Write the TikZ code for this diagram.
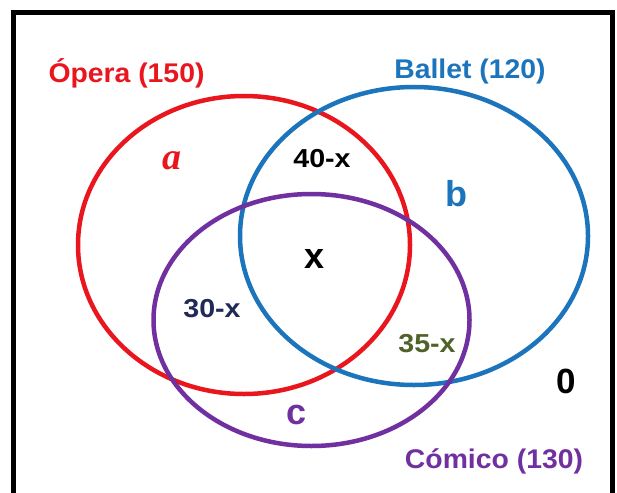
\documentclass[tikz,border=0pt]{standalone}
\usepackage{fontspec}
\setmainfont{Liberation Sans}
\newfontfamily\letterfont{Liberation Serif}
\usetikzlibrary{shapes.geometric}
\definecolor{cred}{RGB}{234,22,30}
\definecolor{cblue}{RGB}{28,117,188}
\definecolor{cpurple}{RGB}{112,48,160}
\definecolor{cnavy}{RGB}{31,42,86}
\definecolor{cgreen}{RGB}{79,98,40}
\newcommand{\widen}[2]{\scalebox{#1}[1]{#2}}
\begin{document}
\begin{tikzpicture}[x=1pt,y=-1pt,
  setshape/.style={ellipse, draw, line width=4.5pt, inner sep=0pt, outer sep=0pt},
  title/.style={anchor=base, inner sep=0pt, font=\bfseries\fontsize{27}{30}\selectfont},
  region/.style={anchor=base, inner sep=0pt, font=\bfseries\fontsize{26}{30}\selectfont},
  big/.style={anchor=base, inner sep=0pt, font=\bfseries\fontsize{36}{40}\selectfont}]
\useasboundingbox (0,0) rectangle (617,492);
\fill[white] (0,0) rectangle (617,492);
% frame
\coordinate (fbl) at (13,500);
\coordinate (ftl) at (13,12.5);
\coordinate (ftr) at (612.5,12.5);
\coordinate (fbr) at (612.5,500);
\draw[line width=5pt, line join=miter] (fbl) -- (ftl) -- (ftr) -- (fbr);
% sets
\node[setshape, draw=cred, minimum width=332pt, minimum height=298pt] (opera) at (244,245) {};
\node[setshape, draw=cblue, minimum width=348pt, minimum height=298pt] (ballet) at (414,236) {};
\node[setshape, draw=cpurple, minimum width=316pt, minimum height=252pt] (comico) at (311.5,320) {};
% titles
\node[title, text=cred] (topera) at (126.5,83) {\widen{1.05}{Ópera (150)}};
\node[title, text=cblue] (tballet) at (470,78) {\widen{1.05}{Ballet (120)}};
\node[title, text=cpurple] (tcomico) at (494,468) {\widen{1.05}{Cómico (130)}};
% regions
\node[anchor=base, inner sep=0pt, text=cred, font=\letterfont\bfseries\itshape\fontsize{38}{44}\selectfont] (ra) at (172,169) {a};
\node[region] (rab) at (322,167) {\widen{1.1}{40-x}};
\node[big, text=cblue] (rb) at (456,206) {b};
\node[big] (rx) at (315,268) {x};
\node[region, text=cnavy] (rac) at (212,317) {\widen{1.1}{30-x}};
\node[region, text=cgreen] (rbc) at (427,352) {\widen{1.1}{35-x}};
\node[big, text=cpurple] (rc) at (297,424) {c};
\node[anchor=base, inner sep=0pt, font=\bfseries\fontsize{35}{40}\selectfont] (rzero) at (566,393) {0};
\end{tikzpicture}
\end{document}
